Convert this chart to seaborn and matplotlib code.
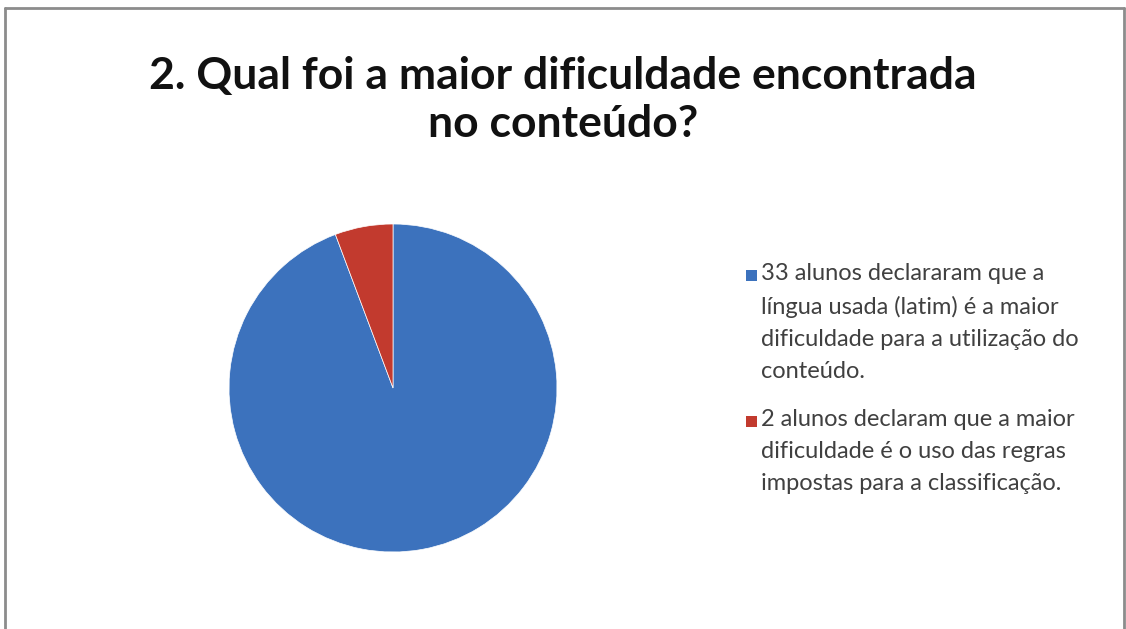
import matplotlib
matplotlib.use("Agg")
import matplotlib.pyplot as plt
import seaborn as sns
from matplotlib.patches import Rectangle
from matplotlib.lines import Line2D

sns.set_theme(style="white")
plt.rcParams['font.family'] = ['Lato', 'DejaVu Sans']

title = "2. Qual foi a maior dificuldade encontrada\nno conteúdo?"
categories = [
    "33 alunos declararam que a\nlíngua usada (latim) é a maior\ndificuldade para a utilização do\nconteúdo.",
    "2 alunos declaram que a maior\ndificuldade é o uso das regras\nimpostas para a classificação.",
]
values = [33, 2]
colors = ["#3C72BD", "#C23A2E"]

W, H = 1126, 629
fig = plt.figure(figsize=(W / 100, H / 100), dpi=100)
fig.patch.set_facecolor("white")

# frame border
for xs, ys in [([5 / W, 5 / W], [0, 1 - 8 / H]),
               ([5 / W, 1 - 2 / W], [1 - 8 / H, 1 - 8 / H]),
               ([1 - 2 / W, 1 - 2 / W], [0, 1 - 8 / H])]:
    fig.add_artist(Line2D(xs, ys, transform=fig.transFigure, color="#8c8c8c", lw=2))

fig.text(563 / W, 1 - 100 / H, title, ha="center", va="center",
         fontsize=32, fontweight="bold", color="#111111", linespacing=1.25)

cx, cy, r = 393, 388, 164
ax = fig.add_axes([(cx - r) / W, 1 - (cy + r) / H, 2 * r / W, 2 * r / H])
ax.pie(values, colors=colors, startangle=90, counterclock=False, radius=1,
       wedgeprops=dict(linewidth=0.5, edgecolor="#ffffff"))
ax.set_xlim(-1.0, 1.0)
ax.set_ylim(-1.0, 1.0)
ax.set_aspect("equal")
ax.axis("off")

# legend (manual to align markers with first line)
legend_y = [275, 421]
for lbl, col, y in zip(categories, colors, legend_y):
    fig.add_artist(Rectangle((746 / W, 1 - (y + 6) / H), 11 / W, 11 / H,
                             transform=fig.transFigure, facecolor=col, edgecolor="none"))
    fig.text(761 / W, 1 - (y - 12) / H, lbl, ha="left", va="top",
             fontsize=17, color="#404040", linespacing=1.66)

fig.savefig("out.png", dpi=100)
